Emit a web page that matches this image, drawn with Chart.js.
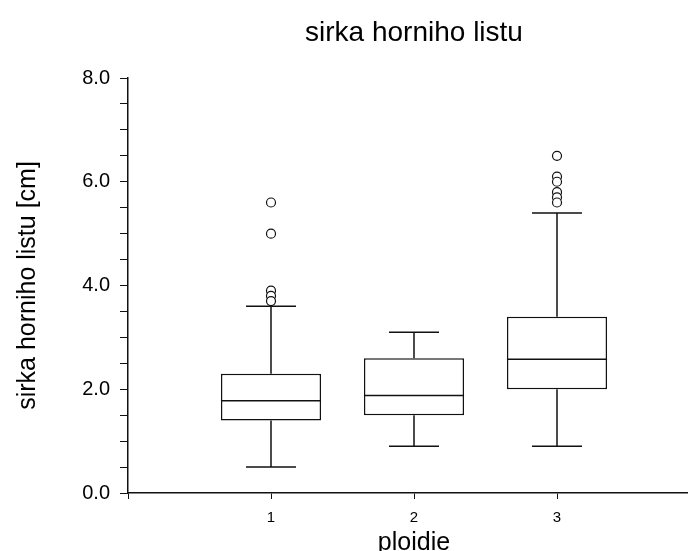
<!DOCTYPE html>
<html>
<head>
<meta charset="utf-8">
<title>sirka horniho listu</title>
<script src="https://cdn.jsdelivr.net/npm/chart.js@4/dist/chart.umd.min.js"></script>
<style>
  html, body { margin: 0; padding: 0; background: #fff; overflow: hidden; }
  .wrap { width: 700px; height: 551px; }
  canvas { display: block; }
</style>
</head>
<body>
<div class="wrap"><canvas id="boxChart" width="700" height="551"></canvas></div>
<script>
// ploidy groups and box statistics (cm)
const groups    = [1, 2, 3];
const q1        = [1.40, 1.50, 2.00];
const medians   = [1.78, 1.88, 2.58];
const q3        = [2.30, 2.60, 3.40];
const whiskLow  = [0.50, 0.90, 0.90];
const whiskHigh = [3.60, 3.10, 5.40];
const outliers  = [
  [5.6, 5.0, 3.9, 3.8, 3.7],
  [],
  [6.5, 6.1, 6.0, 5.8, 5.7, 5.6]
];
const yTickLabels = ['0.0', '2.0', '4.0', '6.0', '8.0'];
const xTickLabels = ['1', '2', '3'];

const BOX_WIDTH = 0.7;   // in x units
const CAP_WIDTH = 0.35;  // whisker cap, x units
const INK = '#111';
const FONT = "'Liberation Sans', Arial, sans-serif";

const boxData = groups.map((g, i) => ({ x: g, y: [q1[i], q3[i]] }));
const outlierData = [];
groups.forEach((g, i) => outliers[i].forEach(v => outlierData.push({ x: g, y: v })));

// whiskers, caps and medians drawn on top of the bars
const boxLines = {
  id: 'boxLines',
  afterDatasetsDraw(chart) {
    const { ctx, scales: { x, y } } = chart;
    ctx.save();
    ctx.strokeStyle = INK;
    ctx.lineWidth = 1.5;
    groups.forEach((g, i) => {
      const cx = x.getPixelForValue(g);
      const capL = x.getPixelForValue(g - CAP_WIDTH / 2);
      const capR = x.getPixelForValue(g + CAP_WIDTH / 2);
      const boxL = x.getPixelForValue(g - BOX_WIDTH / 2);
      const boxR = x.getPixelForValue(g + BOX_WIDTH / 2);
      ctx.beginPath();
      ctx.moveTo(cx, y.getPixelForValue(q3[i]));
      ctx.lineTo(cx, y.getPixelForValue(whiskHigh[i]));
      ctx.moveTo(cx, y.getPixelForValue(q1[i]));
      ctx.lineTo(cx, y.getPixelForValue(whiskLow[i]));
      ctx.moveTo(capL, y.getPixelForValue(whiskHigh[i]));
      ctx.lineTo(capR, y.getPixelForValue(whiskHigh[i]));
      ctx.moveTo(capL, y.getPixelForValue(whiskLow[i]));
      ctx.lineTo(capR, y.getPixelForValue(whiskLow[i]));
      ctx.moveTo(boxL, y.getPixelForValue(medians[i]));
      ctx.lineTo(boxR, y.getPixelForValue(medians[i]));
      ctx.stroke();
    });
    ctx.restore();
  }
};

// heading centred over the plot area
const plotTitle = {
  id: 'plotTitle',
  afterDraw(chart, args, opts) {
    const { ctx, chartArea } = chart;
    ctx.save();
    ctx.font = opts.size + 'px ' + FONT;
    ctx.fillStyle = '#000';
    ctx.textAlign = 'center';
    ctx.textBaseline = 'alphabetic';
    ctx.fillText(opts.text, (chartArea.left + chartArea.right) / 2, opts.baseline);
    ctx.restore();
  }
};

new Chart(document.getElementById('boxChart'), {
  type: 'bar',
  data: {
    datasets: [
      {
        data: boxData,
        backgroundColor: '#fff',
        borderColor: INK,
        borderWidth: 1.5,
        borderSkipped: false,
        barPercentage: BOX_WIDTH,
        categoryPercentage: 1,
        order: 2
      },
      {
        type: 'scatter',
        data: outlierData,
        pointStyle: 'circle',
        pointRadius: 4.5,
        pointBackgroundColor: '#fff',
        pointBorderColor: INK,
        pointBorderWidth: 1.2,
        order: 1
      }
    ]
  },
  options: {
    responsive: false,
    animation: false,
    layout: { autoPadding: false, padding: { top: 78, right: 0, bottom: 0, left: 0 } },
    plugins: {
      legend: { display: false },
      tooltip: { enabled: false },
      plotTitle: { text: 'sirka horniho listu', size: 28, baseline: 41 }
    },
    scales: {
      x: {
        type: 'linear',
        min: 0, max: 4,
        offset: false,
        afterFit(s) { s.height = 58; s.paddingLeft = 0; s.paddingRight = 0; },
        grid: { display: true, drawOnChartArea: false, drawTicks: true, tickLength: 6, color: INK, offset: false },
        border: { display: true, color: INK, width: 1.5 },
        ticks: {
          stepSize: 1,
          padding: 10,
          color: '#000',
          font: { family: FONT, size: 15 },
          maxRotation: 0,
          callback: v => xTickLabels[groups.indexOf(v)] ?? ''
        },
        title: {
          display: true, text: 'ploidie', color: '#000',
          font: { family: FONT, size: 25, lineHeight: 0.6 },
          padding: 0
        }
      },
      y: {
        min: 0, max: 8,
        afterFit(s) { s.width = 128; },
        grid: { display: true, drawOnChartArea: false, drawTicks: true, tickLength: 8, color: INK },
        border: { display: true, color: INK, width: 1.5 },
        ticks: {
          stepSize: 0.5,
          padding: 10,
          color: '#000',
          font: { family: FONT, size: 20 },
          autoSkip: false,
          callback: v => (v % 2 === 0 ? yTickLabels[v / 2] : '')
        },
        title: {
          display: true, text: 'sirka horniho listu [cm]', color: '#000',
          font: { family: FONT, size: 25 },
          padding: { top: 13, bottom: 0 }
        }
      }
    }
  },
  plugins: [boxLines, plotTitle]
});
</script>
</body>
</html>
